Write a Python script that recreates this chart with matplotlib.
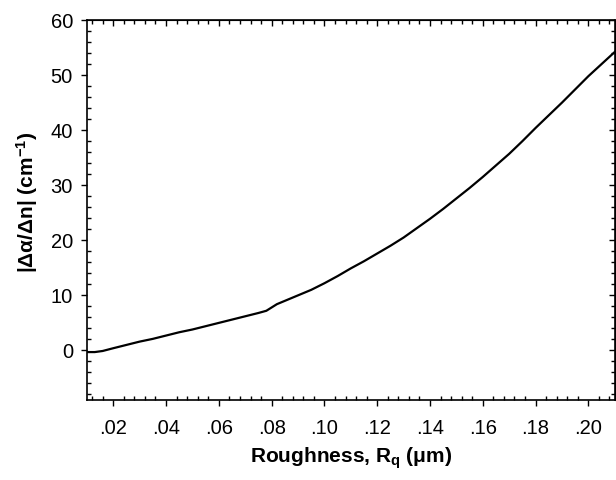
import matplotlib
matplotlib.use('Agg')
import matplotlib.pyplot as plt
from matplotlib.ticker import MultipleLocator, FuncFormatter, NullFormatter

plt.rcParams['font.family'] = ['Liberation Sans', 'DejaVu Sans']
plt.rcParams['mathtext.fontset'] = 'custom'
plt.rcParams['mathtext.rm'] = 'Liberation Sans'
plt.rcParams['mathtext.bf'] = 'Liberation Sans:bold'
plt.rcParams['mathtext.it'] = 'Liberation Sans:italic'

# 读图得到的数据
roughness = [0.010, 0.013, 0.016, 0.020, 0.025, 0.030, 0.035, 0.040, 0.045,
             0.050, 0.055, 0.060, 0.065, 0.070, 0.075, 0.078, 0.080, 0.082,
             0.085, 0.090, 0.095, 0.100, 0.105, 0.110, 0.115, 0.120, 0.125,
             0.130, 0.135, 0.140, 0.145, 0.150, 0.155, 0.160, 0.165, 0.170,
             0.175, 0.180, 0.185, 0.190, 0.195, 0.200, 0.205, 0.210]
ratio = [-0.3, -0.3, -0.1, 0.4, 1.0, 1.6, 2.1, 2.7, 3.3,
         3.8, 4.4, 5.0, 5.6, 6.2, 6.8, 7.2, 7.8, 8.4,
         9.0, 10.0, 11.0, 12.2, 13.5, 14.9, 16.2, 17.6, 19.0,
         20.5, 22.2, 23.9, 25.7, 27.6, 29.5, 31.5, 33.6, 35.7,
         38.0, 40.4, 42.7, 45.0, 47.4, 49.8, 52.0, 54.2]

fig = plt.figure(figsize=(6.16, 4.8), dpi=100)
ax = fig.add_axes([0.141, 0.1667, 0.857, 0.7916])
ax.plot(roughness, ratio, color='black', linewidth=1.6)

ax.set_xlim(0.01, 0.21)
ax.set_ylim(-9, 60)
ax.xaxis.set_major_locator(MultipleLocator(0.02))
ax.xaxis.set_minor_locator(MultipleLocator(0.004))
ax.yaxis.set_major_locator(MultipleLocator(10))
ax.yaxis.set_minor_locator(MultipleLocator(2))
ax.xaxis.set_major_formatter(FuncFormatter(lambda v, p: f'{v:.2f}'.lstrip('0')))

# 下/左: 主刻度朝外, 次刻度朝内
ax.tick_params(which='major', direction='out', length=4, width=1.0, labelsize=14.5)
ax.tick_params(which='minor', direction='in', length=3, width=1.0)
ax.tick_params(axis='x', which='major', pad=10)
ax.tick_params(axis='y', which='major', pad=6)
for s in ax.spines.values():
    s.set_linewidth(1.2)

# 上/右: 刻度朝内, 无标签
top = ax.secondary_xaxis('top')
top.xaxis.set_major_locator(MultipleLocator(0.02))
top.xaxis.set_minor_locator(MultipleLocator(0.004))
top.xaxis.set_major_formatter(NullFormatter())
top.tick_params(which='major', direction='in', length=4, width=1.0)
top.tick_params(which='minor', direction='in', length=3, width=1.0)
right = ax.secondary_yaxis('right')
right.yaxis.set_major_locator(MultipleLocator(10))
right.yaxis.set_minor_locator(MultipleLocator(2))
right.yaxis.set_major_formatter(NullFormatter())
right.tick_params(which='major', direction='in', length=4, width=1.0)
right.tick_params(which='minor', direction='in', length=3, width=1.0)

ax.set_xlabel(r'Roughness, R$_\mathbf{q}$ ($\mathbf{\mu}$m)', fontsize=15, fontweight='bold')
ax.set_ylabel(r'|Δα/Δn| (cm$^\mathbf{-1}$)', fontsize=15, fontweight='bold')
ax.xaxis.set_label_coords(0.5, -0.121)
ax.yaxis.set_label_coords(-0.088, 0.52)

plt.savefig('out.png', dpi=100)
